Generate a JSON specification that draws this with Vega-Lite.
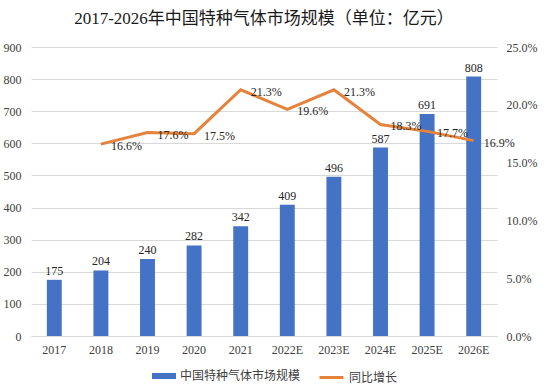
{
  "$schema": "https://vega.github.io/schema/vega-lite/v6.json",
  "width": 466,
  "height": 289,
  "padding": {"top": 10, "left": 3, "right": 7, "bottom": 0},
  "background": "white",
  "title": {
    "text": "2017-2026年中国特种气体市场规模（单位：亿元）",
    "font": "Liberation Serif, Noto Sans CJK SC",
    "fontSize": 17,
    "fontWeight": "normal",
    "color": "#1a1a1a",
    "anchor": "middle",
    "offset": 13
  },
  "config": {
    "view": {"stroke": null},
    "font": "Liberation Serif, Noto Sans CJK SC",
    "axis": {
      "labelFont": "Liberation Serif",
      "labelFontSize": 12,
      "labelColor": "#404040",
      "labelOverlap": false,
      "titleFontSize": 12
    },
    "legend": {
      "orient": "none",
      "direction": "horizontal",
      "labelFont": "Noto Sans CJK SC",
      "labelFontSize": 12,
      "labelColor": "#404040",
      "title": null
    }
  },
  "data": {
    "values": [
      {"year": "2017", "value": 175, "growth": null, "glabel": ""},
      {"year": "2018", "value": 204, "growth": 0.166, "glabel": "16.6%"},
      {"year": "2019", "value": 240, "growth": 0.176, "glabel": "17.6%"},
      {"year": "2020", "value": 282, "growth": 0.175, "glabel": "17.5%"},
      {"year": "2021", "value": 342, "growth": 0.213, "glabel": "21.3%"},
      {"year": "2022E", "value": 409, "growth": 0.196, "glabel": "19.6%"},
      {"year": "2023E", "value": 496, "growth": 0.213, "glabel": "21.3%"},
      {"year": "2024E", "value": 587, "growth": 0.183, "glabel": "18.3%"},
      {"year": "2025E", "value": 691, "growth": 0.177, "glabel": "17.7%"},
      {"year": "2026E", "value": 808, "growth": 0.169, "glabel": "16.9%"}
    ]
  },
  "encoding": {
    "x": {
      "field": "year",
      "type": "ordinal",
      "sort": null,
      "scale": {"paddingInner": 0.68, "paddingOuter": 0.34},
      "axis": {
        "title": null,
        "labelAngle": 0,
        "ticks": false,
        "domain": true,
        "domainColor": "#d9d9d9",
        "labelPadding": 8
      }
    }
  },
  "layer": [
    {
      "encoding": {
        "y": {
          "field": "value",
          "type": "quantitative",
          "scale": {"domain": [0, 900], "nice": false},
          "axis": {
            "title": null,
            "values": [0, 100, 200, 300, 400, 500, 600, 700, 800, 900],
            "grid": true,
            "gridColor": "#d9d9d9",
            "ticks": false,
            "domain": false,
            "labelPadding": 10
          }
        }
      },
      "layer": [
        {
          "mark": {"type": "bar"},
          "encoding": {
            "color": {
              "datum": "中国特种气体市场规模",
              "scale": {"range": ["#4472C4"]},
              "legend": {
                "symbolType": "M-1,-0.25H1V0.25H-1Z",
                "symbolSize": 576,
                "symbolStrokeWidth": 0,
                "legendX": 121,
                "legendY": 317
              }
            }
          }
        },
        {
          "mark": {"type": "text", "dy": -9, "fontSize": 12, "font": "Liberation Serif", "color": "#262626"},
          "encoding": {
            "text": {"field": "value", "type": "quantitative"}
          }
        }
      ]
    },
    {
      "transform": [{"filter": "datum.growth != null"}],
      "encoding": {
        "y": {
          "field": "growth",
          "type": "quantitative",
          "scale": {"domain": [0, 0.25], "nice": false},
          "axis": {
            "orient": "right",
            "title": null,
            "format": ".1%",
            "values": [0, 0.05, 0.1, 0.15, 0.2, 0.25],
            "grid": false,
            "ticks": false,
            "domain": false,
            "labelPadding": 9
          }
        }
      },
      "layer": [
        {
          "mark": {"type": "line", "strokeWidth": 3},
          "encoding": {
            "stroke": {
              "datum": "同比增长",
              "scale": {"range": ["#E5833D"]},
              "legend": {"symbolType": "stroke", "symbolSize": 576, "symbolStrokeWidth": 3, "legendX": 287, "legendY": 317}
            }
          }
        },
        {
          "mark": {"type": "text", "align": "left", "baseline": "middle", "dx": 10, "dy": 2, "fontSize": 12, "font": "Liberation Serif", "color": "#262626"},
          "encoding": {
            "text": {"field": "glabel"}
          }
        }
      ]
    }
  ],
  "resolve": {"scale": {"y": "independent"}}
}
